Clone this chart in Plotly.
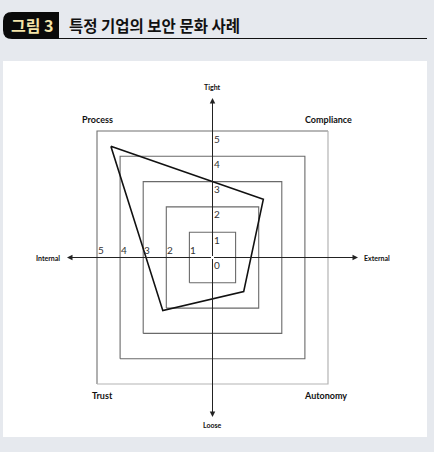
import plotly.graph_objects as go

# square grid levels and the culture profile (one vertex per quadrant)
levels = [1, 2, 3, 4, 5]
quadrants = ["Process", "Compliance", "Autonomy", "Trust"]
profile_x = [-4.4, 2.2, 1.35, -2.15]
profile_y = [4.4, 2.3, -1.35, -2.1]

axis_len = 6.3
axis_names = {"top": "Tight", "bottom": "Loose", "left": "Internal", "right": "External"}
quad_pos = {"Process": (-5.0, 5.46), "Compliance": (5.0, 5.46),
            "Trust": (-4.76, -5.46), "Autonomy": (4.89, -5.46)}

W, H = 434, 452
cx, cy = 212.5, 257.5   # pixel position of origin
ux, uy = 23.1, 25.3     # pixels per unit

fig = go.Figure()

# concentric squares (outer one prints lighter on its right/bottom edges)
for lv in levels:
    if lv == levels[-1]:
        fig.add_trace(go.Scatter(
            x=[-lv, -lv, lv], y=[-lv, lv, lv], mode="lines",
            line=dict(color="#707070", width=1.1), hoverinfo="skip", showlegend=False))
        fig.add_trace(go.Scatter(
            x=[lv, lv, -lv], y=[lv, -lv, -lv], mode="lines",
            line=dict(color="#b4b4b4", width=1.2), hoverinfo="skip", showlegend=False))
    else:
        fig.add_trace(go.Scatter(
            x=[-lv, lv, lv, -lv, -lv], y=[-lv, -lv, lv, lv, -lv],
            mode="lines", line=dict(color="#6a6a6a", width=1.1),
            hoverinfo="skip", showlegend=False))

# profile polygon
fig.add_trace(go.Scatter(
    x=profile_x + profile_x[:1], y=profile_y + profile_y[:1],
    mode="lines", line=dict(color="#111111", width=1.6),
    text=quadrants + quadrants[:1], showlegend=False))

ann = []
# axes with arrowheads
for (x, y) in [(axis_len, 0), (-axis_len, 0), (0, axis_len), (0, -axis_len)]:
    ann.append(dict(x=x, y=y, ax=0, ay=0, xref="x", yref="y", axref="x", ayref="y",
                    showarrow=True, arrowhead=2, arrowsize=1.1, arrowwidth=1,
                    arrowcolor="#222222", text=""))

small = dict(family="Lato, DejaVu Sans", size=7, color="#111111")
ann.append(dict(x=0, y=6.72, text="<b>" + axis_names["top"] + "</b>", showarrow=False, font=small))
ann.append(dict(x=0, y=-6.64, text="<b>" + axis_names["bottom"] + "</b>", showarrow=False, font=small))
ann.append(dict(x=-7.1, y=0, text="<b>" + axis_names["left"] + "</b>", showarrow=False, font=small))
ann.append(dict(x=7.1, y=0, text="<b>" + axis_names["right"] + "</b>", showarrow=False, font=small))

for q in quadrants:
    qx, qy = quad_pos[q]
    ann.append(dict(x=qx, y=qy, text="<b>" + q + "</b>", showarrow=False,
                    font=dict(family="Lato, DejaVu Sans", size=9, color="#111111")))

num_font = dict(family="Lato, DejaVu Sans", size=10, color="#333333")
for lv in [0] + levels:
    ann.append(dict(x=0.2, y=lv - 0.3, text=str(lv), showarrow=False, font=num_font))
for lv in levels:
    ann.append(dict(x=-lv + 0.17, y=0.3, text=str(lv), showarrow=False, font=num_font))

# header
ann.append(dict(x=32 / W, y=1 - 25.5 / H, xref="paper", yref="paper", xanchor="center",
                yanchor="middle", text="<b>그림 3</b>", showarrow=False,
                font=dict(family="Noto Sans CJK KR", size=16, color="#f4e4a8")))
ann.append(dict(x=67 / W, y=1 - 25 / H, xref="paper", yref="paper", xanchor="left",
                yanchor="middle", text="<b>특정 기업의 보안 문화 사례</b>", showarrow=False,
                font=dict(family="Noto Sans CJK KR", size=15.5, color="#111111")))

def px(x):
    return x / W

def py(y):
    return 1 - y / H

badge = (f"M {px(59)} {py(12)} L {px(12)} {py(12)} Q {px(3)} {py(12)} {px(3)} {py(21)} "
         f"L {px(3)} {py(30)} Q {px(3)} {py(39)} {px(12)} {py(39)} L {px(59)} {py(39)} Z")

shapes = [
    dict(type="rect", xref="paper", yref="paper", x0=px(3), x1=px(427), y0=py(437), y1=py(61),
         fillcolor="white", line=dict(width=0), layer="below"),
    dict(type="path", xref="paper", yref="paper", path=badge, fillcolor="#0a0a0a",
         line=dict(width=0), layer="below"),
    dict(type="line", xref="paper", yref="paper", x0=px(59), x1=px(427), y0=py(38.5), y1=py(38.5),
         line=dict(color="#111111", width=1.2)),
]

fig.update_layout(
    width=W, height=H, margin=dict(l=0, r=0, t=0, b=0),
    paper_bgcolor="#e6e9ee", plot_bgcolor="rgba(0,0,0,0)",
    xaxis=dict(range=[-cx / ux, (W - cx) / ux], visible=False, fixedrange=True),
    yaxis=dict(range=[-(H - cy) / uy, cy / uy], visible=False, fixedrange=True),
    annotations=ann, shapes=shapes, showlegend=False,
)

fig.write_html("out.html", config={"displayModeBar": False},
               post_script="document.body.style.margin='0';document.body.style.background='#e6e9ee';")
